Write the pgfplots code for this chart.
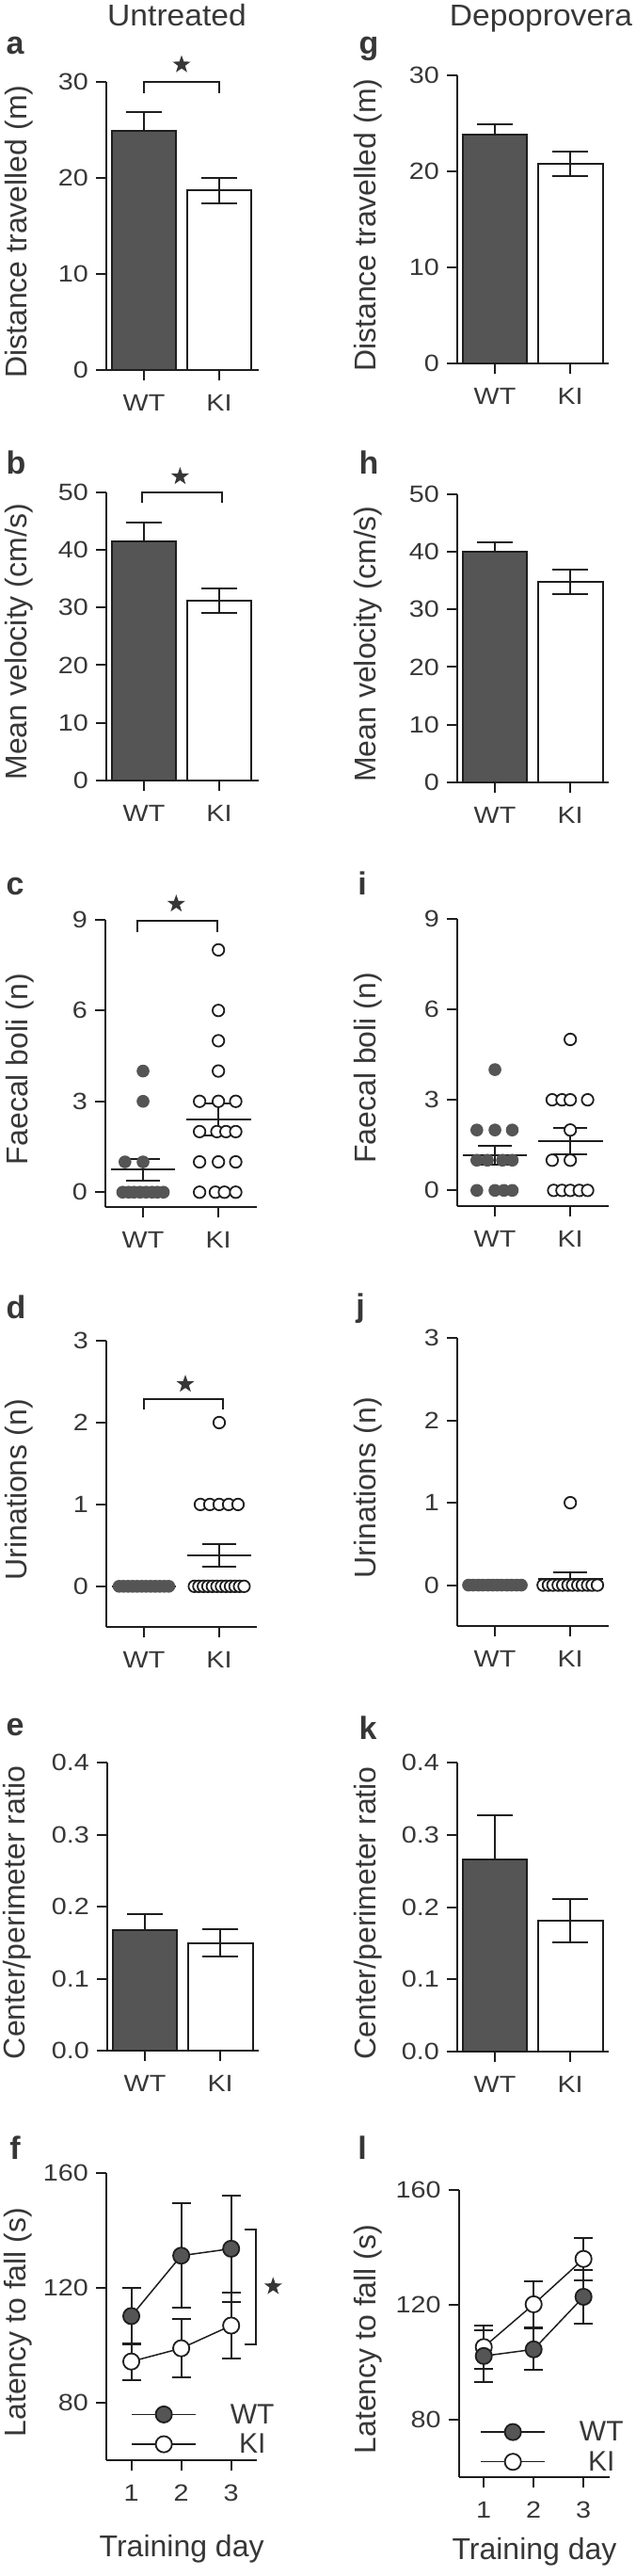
\documentclass[border=0pt]{standalone}
\usepackage{fontspec}
\setmainfont{Liberation Sans}
\usepackage{pgfplots}
\pgfplotsset{compat=1.18}
\usetikzlibrary{shapes.geometric}

\definecolor{axcol}{RGB}{30,30,30}
\definecolor{txtcol}{RGB}{55,55,55}
\definecolor{wtfill}{RGB}{85,85,85}

\tikzset{
  sig/.style={star, star points=5, star point ratio=2.5, fill=txtcol, draw=none, inner sep=0pt, minimum size=10pt},
  plab/.style={font=\fontsize{17}{20}\selectfont\bfseries, text=txtcol, anchor=base},
  labfont/.style={font=\fontsize{16}{19}\selectfont, text=txtcol},
}

\pgfplotsset{
  panel/.style={
    scale only axis, anchor=south west, clip=false,
    axis lines*=left,
    axis line style={line width=1pt, draw=axcol},
    tick align=outside, major tick length=5.5pt,
    tick style={line width=1pt, draw=axcol},
    /pgf/number format/assume math mode=true,
    tick label style={font=\fontsize{12.5}{14}\selectfont, text=txtcol, xscale=1.15},
    xticklabel style={yshift=-4pt},
    every axis y label/.style={at={(axis description cs:#1,0.48)}, rotate=90, anchor=center, labfont},
  },
  grp/.style={xmin=0.5, xmax=#1, xtick={1,2}, xticklabels={WT,KI}},
  wtbar/.style={ybar, bar width=0.86, bar shift=0pt, fill=wtfill, draw=axcol, line width=1pt,
    error bars/.cd, y dir=plus, y explicit,
    error bar style={line width=1pt, draw=axcol},
    error mark options={rotate=90, mark size=9.5pt, line width=1pt, draw=axcol}},
  kibar/.style={ybar, bar width=0.86, bar shift=0pt, fill=white, draw=axcol, line width=1pt,
    error bars/.cd, y dir=both, y explicit,
    error bar style={line width=1pt, draw=axcol},
    error mark options={rotate=90, mark size=9.5pt, line width=1pt, draw=axcol}},
  wtdot/.style={only marks, mark=*, mark size=3.1pt, mark options={fill=wtfill, draw=wtfill, line width=0.6pt}},
  kidot/.style={only marks, mark=*, mark size=3.1pt, mark options={fill=white, draw=axcol, line width=0.9pt}},
  meanline/.style={axcol, line width=1pt, mark=none},
  sem/.style={draw=none, mark=none, error bars/.cd, y dir=both, y explicit,
    error bar style={line width=1pt, draw=axcol},
    error mark options={rotate=90, mark size=9pt, line width=1pt, draw=axcol}},
  days/.style={xmin=0.5, xmax=#1, xtick={1,2,3}, ymin=60, ymax=160, ytick={80,120,160},
    xlabel={Training day},
    legend image code/.code={\draw[mark repeat=2, mark phase=2, ##1] plot coordinates {(0pt,0.5pt) (17pt,0.5pt) (34pt,0.5pt)};},
    reverse legend,
  },
  trerr/.style={draw=none, mark=none, error bars/.cd, y dir=both, y explicit,
    error bar style={line width=1pt, draw=axcol},
    error mark options={rotate=90, mark size=5pt, line width=1pt, draw=axcol}},
  wtline/.style={axcol, line width=0.75pt, mark=*, mark size=4.3pt, mark options={fill=wtfill, draw=axcol, line width=0.9pt}},
  kiline/.style={axcol, line width=0.75pt, mark=*, mark size=4.3pt, mark options={fill=white, draw=axcol, line width=0.9pt}},
  leg/.style 2 args={legend style={at={(axis description cs:#1,#2)}, anchor=west, draw=none, fill=none,
    inner sep=0pt, row sep=4pt, nodes={inner sep=0pt, text=txtcol, font=\fontsize{15}{18}\selectfont}}},
}

\begin{document}
\begin{tikzpicture}
\useasboundingbox (0,0) rectangle (337.5pt,-1368pt);

% column titles and panel letters
\node[labfont, anchor=base, xscale=1.05] at (94pt,-13.5pt) {Untreated};
\node[labfont, anchor=base, xscale=1.05] at (287.5pt,-13.5pt) {Depoprovera};
\node[plab] at (8pt,-28.5pt) {a};
\node[plab] at (196pt,-28.5pt) {g};
\node[plab] at (8.5pt,-251.5pt) {b};
\node[plab] at (196pt,-251.5pt) {h};
\node[plab] at (8pt,-475pt) {c};
\node[plab] at (192.5pt,-475pt) {i};
\node[plab] at (8.5pt,-700pt) {d};
\node[plab] at (191.5pt,-699pt) {j};
\node[plab] at (8pt,-921.5pt) {e};
\node[plab] at (195.5pt,-923.5pt) {k};
\node[plab] at (8pt,-1146.5pt) {f};
\node[plab] at (192.5pt,-1146.5pt) {l};

% ---- a: distance, untreated
\begin{axis}[panel=-0.574, grp=2.525, at={(56.5pt,-196.5pt)}, width=81pt, height=153pt,
  ymin=0, ymax=30, ytick={0,10,20,30}, ylabel={Distance travelled (m)}]
\draw[axcol, line width=1pt] (axis cs:0.375,0) -- (axis cs:0.5,0);
\addplot[wtbar] coordinates {(1,24.9) +- (0,2.0)};
\addplot[kibar] coordinates {(2,18.7) +- (0,1.3)};
\draw[axcol, line width=1pt] (axis cs:1,28.8) |- (axis cs:2,30) -- (axis cs:2,28.8);
\node[sig] at (axis cs:1.5,31.8) {};
\end{axis}

% ---- g: distance, depoprovera
\begin{axis}[panel=-0.59, grp=2.51, at={(243pt,-193pt)}, width=80.5pt, height=153pt,
  ymin=0, ymax=30, ytick={0,10,20,30}, ylabel={Distance travelled (m)}]
\draw[axcol, line width=1pt] (axis cs:0.365,0) -- (axis cs:0.5,0);
\addplot[wtbar] coordinates {(1,23.8) +- (0,1.1)};
\addplot[kibar] coordinates {(2,20.8) +- (0,1.3)};
\end{axis}

% ---- b: velocity, untreated
\begin{axis}[panel=-0.574, grp=2.525, at={(56.5pt,-414.5pt)}, width=81pt, height=153.2pt,
  ymin=0, ymax=50, ytick={0,10,20,30,40,50}, ylabel={Mean velocity (cm/s)}]
\draw[axcol, line width=1pt] (axis cs:0.375,0) -- (axis cs:0.5,0);
\addplot[wtbar] coordinates {(1,41.5) +- (0,3.2)};
\addplot[kibar] coordinates {(2,31.2) +- (0,2.1)};
\draw[axcol, line width=1pt] (axis cs:0.98,48.1) |- (axis cs:2.04,50) -- (axis cs:2.04,48.1);
\node[sig] at (axis cs:1.48,52.7) {};
\end{axis}

% ---- h: velocity, depoprovera
\begin{axis}[panel=-0.59, grp=2.51, at={(243pt,-415.5pt)}, width=80.5pt, height=153.15pt,
  ymin=0, ymax=50, ytick={0,10,20,30,40,50}, ylabel={Mean velocity (cm/s)}]
\draw[axcol, line width=1pt] (axis cs:0.365,0) -- (axis cs:0.5,0);
\addplot[wtbar] coordinates {(1,40.0) +- (0,1.6)};
\addplot[kibar] coordinates {(2,34.8) +- (0,2.1)};
\end{axis}

% ---- c: faecal boli, untreated
\begin{axis}[panel=-0.565, grp=2.51, at={(56pt,-641.15pt)}, width=80.5pt, height=152.8pt,
  ymin=-0.5, ymax=9, ytick={0,3,6,9}, ylabel={Faecal boli (n)}]
\addplot[wtdot] coordinates {(1,4) (1,3) (0.76,1) (1,1) (0.73,0) (0.81,0) (0.88,0) (0.96,0) (1.04,0) (1.12,0) (1.19,0) (1.27,0)};
\addplot[kidot] coordinates {(2,8) (2,6) (2,5) (2,4) (1.75,3) (2,3) (2.23,3) (1.75,2) (1.98,2) (2.1,2) (2.23,2) (1.75,1) (2,1) (2.23,1) (1.75,0) (1.96,0) (2.08,0) (2.23,0)};
\addplot[meanline] coordinates {(0.57,0.75) (1.43,0.75)};
\addplot[meanline] coordinates {(1.57,2.39) (2.43,2.39)};
\addplot[sem] coordinates {(1,0.75) +- (0,0.36) (2,2.39) +- (0,0.53)};
\draw[axcol, line width=1pt] (axis cs:0.93,8.6) |- (axis cs:1.99,8.95) -- (axis cs:1.99,8.6);
\node[sig] at (axis cs:1.44,9.52) {};
\end{axis}

% ---- i: faecal boli, depoprovera
\begin{axis}[panel=-0.59, grp=2.51, at={(243pt,-640.5pt)}, width=80.5pt, height=152.65pt,
  ymin=-0.52, ymax=9, ytick={0,3,6,9}, ylabel={Faecal boli (n)}]
\addplot[wtdot] coordinates {(1,4) (0.76,2) (1,2) (1.23,2) (0.76,1) (0.9,1) (1.1,1) (1.23,1) (0.76,0) (1,0) (1.12,0) (1.23,0)};
\addplot[kidot] coordinates {(2,5) (1.76,3) (1.89,3) (2,3) (2.23,3) (2,2) (1.76,1) (2,1) (1.78,0) (1.89,0) (2,0) (2.12,0) (2.23,0)};
\addplot[meanline] coordinates {(0.57,1.17) (1.43,1.17)};
\addplot[meanline] coordinates {(1.57,1.62) (2.43,1.62)};
\addplot[sem] coordinates {(1,1.17) +- (0,0.32) (2,1.62) +- (0,0.44)};
\end{axis}

% ---- d: urinations, untreated
\begin{axis}[panel=-0.58, grp=2.5, at={(56.5pt,-864.15pt)}, width=80pt, height=152.15pt,
  ymin=-0.5, ymax=3, ytick={0,1,2,3}, ylabel={Urinations (n)}]
\addplot[wtdot] coordinates {(0.67,0) (0.73,0) (0.79,0) (0.85,0) (0.91,0) (0.97,0) (1.03,0) (1.09,0) (1.15,0) (1.21,0) (1.27,0) (1.33,0)};
\addplot[kidot] coordinates {(2,2) (1.75,1) (1.875,1) (2,1) (2.125,1) (2.25,1)
  (1.67,0) (1.73,0) (1.79,0) (1.85,0) (1.91,0) (1.97,0) (2.03,0) (2.09,0) (2.15,0) (2.21,0) (2.27,0) (2.33,0)};
\addplot[meanline] coordinates {(0.57,0) (1.43,0)};
\addplot[meanline] coordinates {(1.57,0.38) (2.43,0.38)};
\addplot[sem] coordinates {(2,0.38) +- (0,0.14)};
\draw[axcol, line width=1pt] (axis cs:1.0,2.16) |- (axis cs:2.05,2.29) -- (axis cs:2.05,2.16);
\node[sig] at (axis cs:1.55,2.47) {};
\end{axis}

% ---- j: urinations, depoprovera
\begin{axis}[panel=-0.59, grp=2.51, at={(243pt,-863.65pt)}, width=80.5pt, height=153.15pt,
  ymin=-0.5, ymax=3, ytick={0,1,2,3}, ylabel={Urinations (n)}]
\addplot[wtdot] coordinates {(0.65,0) (0.71,0) (0.78,0) (0.84,0) (0.91,0) (0.97,0) (1.03,0) (1.09,0) (1.16,0) (1.22,0) (1.29,0) (1.35,0)};
\addplot[kidot] coordinates {(2,1) (1.64,0) (1.71,0) (1.77,0) (1.84,0) (1.9,0) (1.97,0) (2.03,0) (2.1,0) (2.16,0) (2.23,0) (2.29,0) (2.36,0)};
\addplot[meanline] coordinates {(0.57,0) (1.43,0)};
\addplot[meanline] coordinates {(1.57,0.077) (2.43,0.077)};
\addplot[sem] coordinates {(2,0.077) +- (0,0.077)};
\end{axis}

% ---- e: centre/perimeter, untreated
\begin{axis}[panel=-0.596, grp=2.51, at={(57pt,-1089.15pt)}, width=80.5pt, height=153pt,
  ymin=0, ymax=0.4, ytick={0,0.1,0.2,0.3,0.4}, ylabel={Center/perimeter ratio},
  yticklabel style={/pgf/number format/.cd, fixed, fixed zerofill, precision=1}]
\draw[axcol, line width=1pt] (axis cs:0.375,0) -- (axis cs:0.5,0);
\addplot[wtbar] coordinates {(1,0.168) +- (0,0.022)};
\addplot[kibar] coordinates {(2,0.150) +- (0,0.019)};
\end{axis}

% ---- k: centre/perimeter, depoprovera
\begin{axis}[panel=-0.59, grp=2.51, at={(243pt,-1089.5pt)}, width=80.5pt, height=153.35pt,
  ymin=0, ymax=0.4, ytick={0,0.1,0.2,0.3,0.4}, ylabel={Center/perimeter ratio},
  yticklabel style={/pgf/number format/.cd, fixed, fixed zerofill, precision=1}]
\draw[axcol, line width=1pt] (axis cs:0.365,0) -- (axis cs:0.5,0);
\addplot[wtbar] coordinates {(1,0.266) +- (0,0.061)};
\addplot[kibar] coordinates {(2,0.181) +- (0,0.030)};
\end{axis}

% ---- f: rotarod, untreated
\begin{axis}[panel=-0.586, days=3.52, at={(56.5pt,-1306.65pt)}, width=80.15pt, height=152.8pt,
  ylabel={Latency to fall (s)}, leg={0.162}{0.105},
  every axis x label/.style={at={(axis description cs:0.5,0)}, anchor=base, yshift=-51pt, labfont}]
\addplot[forget plot, trerr] coordinates {(1,94.4) +- (0,6.4) (2,99.0) +- (0,10.2) (3,106.9) +- (0,11.4)};
\addplot[kiline] coordinates {(1,94.4) (2,99.0) (3,106.9)};
\addlegendentry{\hspace*{18pt}KI}
\addplot[forget plot, trerr] coordinates {(1,110.2) +- (0,9.7) (2,131.2) +- (0,18.2) (3,133.6) +- (0,18.6)};
\addplot[wtline] coordinates {(1,110.2) (2,131.2) (3,133.6)};
\addlegendentry{\hspace*{18pt}WT}
\draw[axcol, line width=1pt] (axis cs:3.27,140.4) -- (axis cs:3.49,140.4) -- (axis cs:3.49,100.4) -- (axis cs:3.27,100.4);
\node[sig] at (axis cs:3.84,120.5) {};
\end{axis}

% ---- l: rotarod, depoprovera
\begin{axis}[panel=-0.60, days=3.53, at={(243.85pt,-1315.5pt)}, width=80.3pt, height=152.5pt,
  ylabel={Latency to fall (s)}, leg={0.139}{0.102},
  every axis x label/.style={at={(axis description cs:0.5,0)}, anchor=base, yshift=-43.5pt, labfont}]
\addplot[forget plot, trerr] coordinates {(1,105.3) +- (0,7.5) (2,120.2) +- (0,8.0) (3,136.0) +- (0,7.4)};
\addplot[kiline] coordinates {(1,105.3) (2,120.2) (3,136.0)};
\addlegendentry{\hspace*{18pt}KI}
\addplot[forget plot, trerr] coordinates {(1,102.2) +- (0,9.0) (2,104.5) +- (0,7.2) (3,122.8) +- (0,9.5)};
\addplot[wtline] coordinates {(1,102.2) (2,104.5) (3,122.8)};
\addlegendentry{\hspace*{18pt}WT}
\end{axis}
\end{tikzpicture}
\end{document}
